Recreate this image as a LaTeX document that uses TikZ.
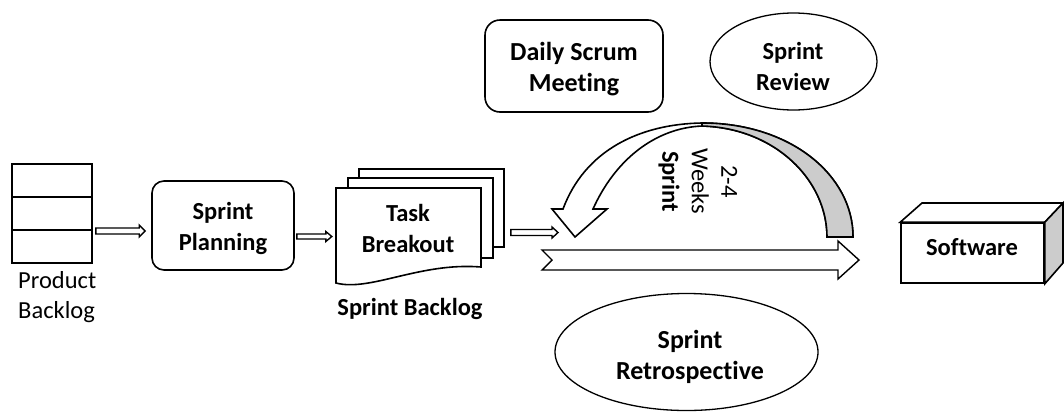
\documentclass[tikz,border=0pt]{standalone}
\usepackage{fontspec}
\setmainfont[Ligatures={NoCommon}]{Carlito}
\usetikzlibrary{shapes.geometric,calc}
\tikzset{
  lw/.style={line width=1.6pt},
  roundbox/.style={draw, line width=1.6pt, rectangle, rounded corners=13pt, inner sep=0pt},
  oval/.style={draw, line width=1.3pt, ellipse, inner sep=0pt},
  lbl/.style={font=\fontsize{24.5}{31}\selectfont\bfseries, align=center, inner sep=0pt},
  lblbig/.style={font=\fontsize{26}{31}\selectfont\bfseries, align=center, inner sep=0pt},
  lblr/.style={font=\fontsize{24.5}{30}\selectfont, inner sep=0pt},
  blk/.style={draw, line width=1.4pt, fill=white, line join=miter},
  shade/.style={fill=gray!40},
}
\newcommand{\blockarrow}[5]{%
  \draw[blk] let \p1=(#1), \p2=(#2), \p3=(0,#3) in
    (\x1,\y3+#4) -- (\x2-6pt,\y3+#4) -- (\x2-6pt,\y3+#5) -- (\x2,\y3)
    -- (\x2-6pt,\y3-#5) -- (\x2-6pt,\y3-#4) -- (\x1,\y3-#4) -- cycle;}
\begin{document}
\begin{tikzpicture}[x=1pt,y=-1pt]
\useasboundingbox (0,0) rectangle (1064,413);

% Product backlog
\node[draw, lw, minimum width=80pt, minimum height=99pt, inner sep=0pt] (backlog) at (52,213.5) {};
\draw[lw] (backlog.west |- 0,197) -- (backlog.east |- 0,197);
\draw[lw] (backlog.west |- 0,230) -- (backlog.east |- 0,230);
\node[lblr, align=left, anchor=west] (pbtext) at (18,297) {Product\\Backlog};

% Sprint planning
\node[roundbox, rounded corners=12pt, minimum width=142pt, minimum height=89pt] (planning) at (223,225.5) {};
\node[lbl] (plantext) at (223,228.5) {Sprint\\Planning};

% Task breakout (stack of documents)
\node[draw, lw, fill=white, minimum width=145pt, minimum height=78pt, inner sep=0pt] (taskback) at (431.5,208) {};
\node[draw, lw, fill=white, minimum width=145pt, minimum height=80pt, inner sep=0pt] (taskmid) at (420.5,218) {};
\node[minimum width=145pt, minimum height=95pt, inner sep=0pt] (task) at (408.5,235.5) {};
\draw[lw, fill=white] (336,188) -- (481,188) -- (481,267)
  .. controls (420,262) and (370,292) .. (336,283) -- cycle;
\node[lbl] (tasktext) at (408,228.5) {Task\\Breakout};
\node[lbl, anchor=base] (sbl) at (410,315) {Sprint Backlog};

% small arrows
\blockarrow{[xshift=3pt]backlog.east}{[xshift=-6pt]planning.west}{231}{3pt}{6pt}
\blockarrow{[xshift=2pt]planning.east}{[xshift=-4pt]task.west}{236.5}{2.5pt}{5pt}
\coordinate (cyclein) at (558,232);
\blockarrow{[xshift=6pt]taskback.east}{cyclein}{232.5}{3pt}{5.5pt}

% Daily scrum and sprint review
\node[roundbox, rounded corners=15pt, minimum width=178pt, minimum height=92pt] (daily) at (574,66) {};
\node[lblbig] (dailytext) at (574,69) {Daily Scrum\\Meeting};
\node[oval, minimum width=167pt, minimum height=97pt] (review) at (793.5,61.5) {};
\node[lbl] (reviewtext) at (793,66) {Sprint\\Review};

% curved sprint arrow
\draw[lw, fill=white, line join=miter]
  (853,237) .. controls (853,175) and (790,123) .. (702,123)
  .. controls (640,124) and (585,150) .. (563,209)
  -- (552,209) -- (575,237) -- (607,209) -- (593,209)
  .. controls (615,160) and (655,128) .. (702,126)
  .. controls (775,128) and (827,180) .. (827,237) -- cycle;
\draw[lw, shade]
  (853,237) .. controls (853,175) and (790,123) .. (702,123)
  -- (702,126) .. controls (775,128) and (827,180) .. (827,237) -- cycle;
\node[lbl, font=\fontsize{24.5}{29.5}\selectfont, rotate=-90] (weeks) at (698,181.5) {2-4\\Weeks\\\textbf{Sprint}};

% big sprint arrow
\draw[blk] (542,250) -- (838,250) -- (838,241) -- (859,260) -- (838,279)
  -- (838,270) -- (542,270) -- (552,260) -- cycle;

% Sprint retrospective
\node[oval, minimum width=263pt, minimum height=117pt] (retro) at (686.5,352) {};
\node[lblbig] (retrotext) at (690,357) {Sprint\\Retrospective};

% Software box
\node[draw, lw, fill=white, minimum width=143pt, minimum height=60pt, inner sep=0pt] (software) at (972.5,253) {};
\draw[lw, fill=white, line join=miter] (software.north west) -- (922,203) -- (1063,203) -- (software.north east) -- cycle;
\draw[lw, shade, line join=miter] (software.north east) -- (1063,203) -- (1063,263) -- (software.south east) -- cycle;
\node[lbl, anchor=base] (swtext) at (972,255) {Software};
\end{tikzpicture}
\end{document}
